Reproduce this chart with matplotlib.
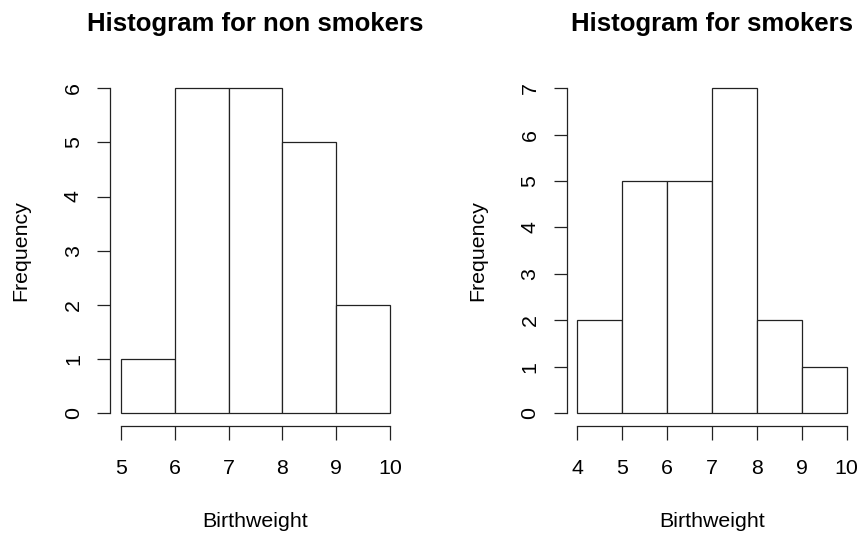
import matplotlib.pyplot as plt
import numpy as np

plt.rcParams['font.family'] = ['Liberation Sans', 'DejaVu Sans']

# histogram bins and counts
nonsmoker_edges = [5, 6, 7, 8, 9, 10]
nonsmoker_counts = [1, 6, 6, 5, 2]
smoker_edges = [4, 5, 6, 7, 8, 9, 10]
smoker_counts = [2, 5, 5, 7, 2, 1]

panels = [
    ("Histogram for non smokers", nonsmoker_edges, nonsmoker_counts, 110),
    ("Histogram for smokers", smoker_edges, smoker_counts, 566.5),
]

W, H = 861, 534
fig = plt.figure(figsize=(W / 100, H / 100), dpi=100)

for title, edges, counts, left_px in panels:
    edges = np.array(edges, dtype=float)
    counts = np.array(counts, dtype=float)
    ax = fig.add_axes([left_px / W, 1 - 426 / H, 291 / W, (426 - 75.3) / H])

    ax.bar(edges[:-1], counts, width=np.diff(edges), align='edge',
           color='white', edgecolor='#222222', linewidth=0.9)

    # R style limits: 4% padding around data range
    xr = edges[-1] - edges[0]
    ymax = counts.max()
    ax.set_xlim(edges[0] - 0.04 * xr, edges[-1] + 0.04 * xr)
    ax.set_ylim(-0.04 * ymax, ymax * 1.04)

    for s in ['top', 'right']:
        ax.spines[s].set_visible(False)
    ax.spines['left'].set_bounds(0, ymax)
    ax.spines['bottom'].set_bounds(edges[0], edges[-1])
    for s in ['left', 'bottom']:
        ax.spines[s].set_linewidth(0.9)
        ax.spines[s].set_color('#222222')

    ax.set_xticks(edges)
    ax.set_xticklabels([f"{int(v)}" for v in edges])
    ax.set_yticks(np.arange(0, ymax + 1))
    ax.tick_params(axis='x', length=10, width=0.9, color='#222222',
                   labelsize=15.4, pad=14)
    ax.tick_params(axis='y', length=9.5, width=0.9, color='#222222',
                   labelsize=15.4, pad=10)
    for lbl in ax.get_yticklabels():
        lbl.set_rotation(90)
        lbl.set_va('center')

    ax.set_xlabel('Birthweight', fontsize=15.4, labelpad=24)
    ax.set_ylabel('Frequency', fontsize=15.4, labelpad=24)
    ax.set_title(title, fontsize=18.5, fontweight='bold', pad=32)

plt.savefig('out.png', dpi=100)
